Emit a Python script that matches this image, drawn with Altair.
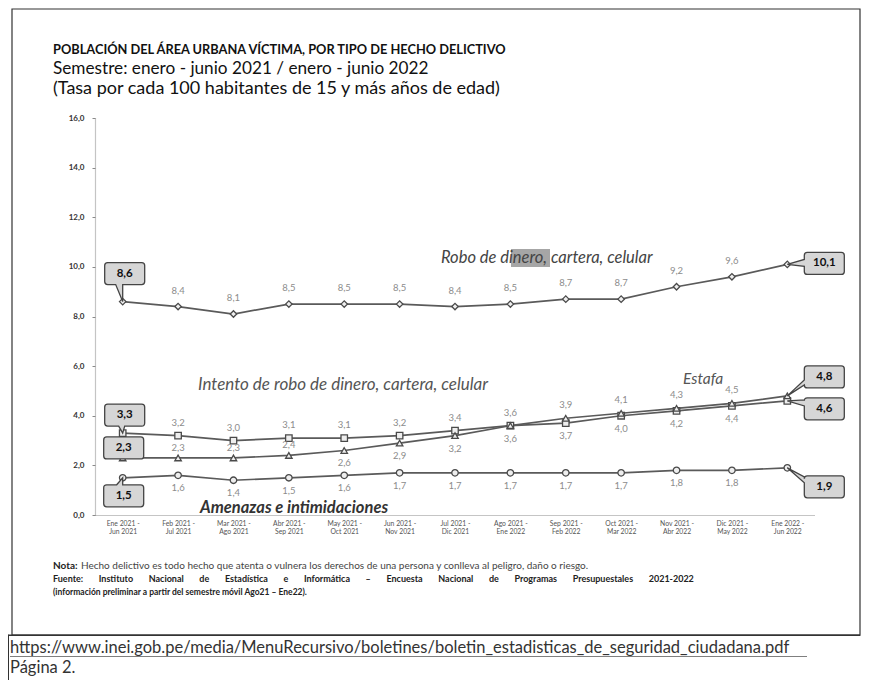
import altair as alt
import pandas as pd

# ---------------- data ----------------
periods = [
    "Ene 2021 - Jun 2021", "Feb 2021 - Jul 2021", "Mar 2021 - Ago 2021",
    "Abr 2021 - Sep 2021", "May 2021 - Oct 2021", "Jun 2021 - Nov 2021",
    "Jul 2021 - Dic 2021", "Ago 2021 - Ene 2022", "Sep 2021 - Feb 2022",
    "Oct 2021 - Mar 2022", "Nov 2021 - Abr 2022", "Dic 2021 - May 2022",
    "Ene 2022 - Jun 2022",
]
robo = [8.6, 8.4, 8.1, 8.5, 8.5, 8.5, 8.4, 8.5, 8.7, 8.7, 9.2, 9.6, 10.1]
intento = [3.3, 3.2, 3.0, 3.1, 3.1, 3.2, 3.4, 3.6, 3.7, 4.0, 4.2, 4.4, 4.6]
estafa = [2.3, 2.3, 2.3, 2.4, 2.6, 2.9, 3.2, 3.6, 3.9, 4.1, 4.3, 4.5, 4.8]
amenazas = [1.5, 1.6, 1.4, 1.5, 1.6, 1.7, 1.7, 1.7, 1.7, 1.7, 1.8, 1.8, 1.9]
series_names = [
    "Robo de dinero, cartera, celular",
    "Intento de robo de dinero, cartera, celular",
    "Estafa",
    "Amenazas e intimidaciones",
]
y_ticks = [0, 2, 4, 6, 8, 10, 12, 14, 16]

title = "POBLACIÓN DEL ÁREA URBANA VÍCTIMA, POR TIPO DE HECHO DELICTIVO"
subtitle1 = "Semestre: enero - junio 2021 / enero - junio 2022"
subtitle2 = "(Tasa por cada 100 habitantes de 15 y más años de edad)"
nota_lbl = "Nota:"
nota_txt = "Hecho delictivo es todo hecho que atenta o vulnera los derechos de una persona y conlleva al peligro, daño o riesgo."
fuente_txt = "Fuente: Instituto Nacional de Estadística e Informática – Encuesta Nacional de Programas Presupuestales 2021-2022"
info_txt = "(información preliminar a partir del semestre móvil Ago21 – Ene22)."
url_txt = "https://www.inei.gob.pe/media/MenuRecursivo/boletines/boletin_estadisticas_de_seguridad_ciudadana.pdf"
pagina_txt = "Página 2."

# ---------------- style ----------------
FONT = "Lato"
W, H = 720, 397
LINE_COLOR = "#5a5a5a"
shapes = ["diamond", "square", "triangle-up", "circle"]

# label side per series and index
def label_side(s, i):
    if s == 0:
        return "up"
    if s == 3:
        return "down"
    if s == 1:
        return "up2" if i <= 7 else "down"
    if i <= 3:
        return "up3"
    if i <= 7:
        return "down"
    return "up2"

side_dy = {"up": -16, "up2": -13, "up3": -10, "down": 13}

def fmt(v):
    return f"{v:.1f}".replace(".", ",")

values = [robo, intento, estafa, amenazas]
rows = []
for s, vals in enumerate(values):
    for i, v in enumerate(vals):
        rows.append({"period": periods[i], "serie": series_names[s], "value": v,
                     "label": fmt(v), "idx": i, "s": s, "side": label_side(s, i)})
df = pd.DataFrame(rows)

x_enc = alt.X("period:N", sort=periods,
              scale=alt.Scale(type="point", padding=0.5),
              axis=alt.Axis(title=None, labelAngle=0, labelFontSize=6.8, labelFont=FONT,
                            labelColor="#555", ticks=False, domainColor="#8a8a8a",
                            domainDash=[1, 1], domainWidth=1.2, labelPadding=5,
                            labelLineHeight=8.5,
                            labelExpr="[slice(datum.label,0,10), slice(datum.label,11)]"))
y_enc = alt.Y("value:Q", scale=alt.Scale(domain=[0, 16], nice=False, zero=True),
              axis=alt.Axis(title=None, values=y_ticks, grid=False, labelFontSize=8,
                            labelFont=FONT, labelFontWeight="bold", labelColor="#333",
                            tickSize=3, tickColor="#8a8a8a", domainColor="#8a8a8a",
                            domainDash=[1, 1], domainWidth=1.2, labelPadding=8,
                            labelExpr="replace(format(datum.value,'.1f'),'.',',')"))

base = alt.Chart(df)
layers = []

one = pd.DataFrame({"a": [0]})

def px_rect(x, x2, y, y2, **kw):
    return alt.Chart(one).mark_rect(**kw).encode(
        x=alt.value(x), x2=alt.value(x2), y=alt.value(y), y2=alt.value(y2))

def px_text(txt, x, y, **kw):
    return alt.Chart(pd.DataFrame({"t": [txt]})).mark_text(
        align=kw.pop("align", "left"), baseline=kw.pop("baseline", "middle"),
        font=kw.pop("font", FONT), **kw).encode(x=alt.value(x), y=alt.value(y), text="t:N")

# frame and footer separators (page coords minus plot origin 95,118)
layers.append(px_rect(-83, 765, -109, 517, fillOpacity=0, stroke="#333", strokeWidth=1.2))
layers.append(px_rect(-87, 765, 517, 517.5, fill="#333", stroke="#333", strokeWidth=1))
layers.append(px_rect(-87, -86.5, 517, 570, fill="#333", stroke="#333", strokeWidth=1))
# highlight behind "dinero"
layers.append(px_rect(416, 455, 131, 149, fill="#a6a6a6"))

# lines
layers.append(base.mark_line(color=LINE_COLOR, strokeWidth=1.7).encode(
    x=x_enc, y=y_enc, detail="serie:N"))
# markers
layers.append(base.mark_point(filled=True, fill="#eeeeee", stroke="#4a4a4a",
                              strokeWidth=1.3, size=42, opacity=1).encode(
    x=x_enc, y=y_enc,
    shape=alt.Shape("serie:N", scale=alt.Scale(domain=series_names, range=shapes), legend=None)))

# value labels (not first/last)
inner = base.transform_filter("datum.idx > 0 && datum.idx < 12")
for side, dy in side_dy.items():
    layers.append(inner.transform_filter(f"datum.side == '{side}'").mark_text(
        font=FONT, fontSize=9.5, color="#8c8c8c", dy=dy, baseline="middle").encode(
        x=x_enc, y=y_enc, text="label:N"))

# callouts
def callout_path(cx, cy, w, h, edge=None, b0=0, b1=0, r=3):
    x0, x1 = cx - w / 2, cx + w / 2
    y0, y1 = cy - h / 2, cy + h / 2
    p = [f"M{x0 + r},{y0}"]
    if edge == "top":
        p += [f"L{b0},{y0}", "L0,0", f"L{b1},{y0}"]
    p += [f"L{x1 - r},{y0}", f"Q{x1},{y0} {x1},{y0 + r}"]
    p += [f"L{x1},{y1 - r}", f"Q{x1},{y1} {x1 - r},{y1}"]
    if edge == "bottom":
        p += [f"L{b1},{y1}", "L0,0", f"L{b0},{y1}"]
    p += [f"L{x0 + r},{y1}", f"Q{x0},{y1} {x0},{y1 - r}"]
    if edge == "left":
        p += [f"L{x0},{b1}", "L0,0", f"L{x0},{b0}"]
    p += [f"L{x0},{y0 + r}", f"Q{x0},{y0} {x0 + r},{y0}", "Z"]
    return " ".join(p)

callouts = [
    # (series, idx, cx, cy, edge, b0, b1)
    (0, 0, 2, -28, "bottom", -7, 0),
    (0, 12, 37, -1, "left", -5, 2),
    (1, 0, 2, -18, "bottom", -4, 2),
    (1, 12, 37, 8, "left", -1, 5),
    (2, 0, 1, -10, None, 0, 0),
    (2, 12, 37, -19, "left", -16, -11),
    (3, 0, 1, 18, "top", -6, 0),
    (3, 12, 37, 19, "left", 9, 15),
]
for s, i, cx, cy, edge, b0, b1 in callouts:
    sub = base.transform_filter(f"datum.s == {s} && datum.idx == {i}")
    path = callout_path(cx, cy, 40, 22, edge, b0, b1)
    layers.append(sub.mark_point(shape=path, size=4, filled=True, fill="#d6d6d6",
                                 stroke="#444", strokeWidth=1.3, opacity=1).encode(x=x_enc, y=y_enc))
    layers.append(sub.mark_text(font=FONT, fontSize=11.5, fontWeight="bold", color="#111",
                                dx=cx, dy=cy, baseline="middle").encode(
        x=x_enc, y=y_enc, text="label:N"))

# titles
layers.append(px_text(title, -42, -68, fontSize=12.8, fontWeight="bold", color="#111"))
layers.append(px_text(subtitle1, -42, -49, fontSize=17.2, color="#111"))
layers.append(px_text(subtitle2, -42, -29, fontSize=18, color="#111"))

# series annotations
layers.append(px_text(series_names[0], 346, 140, fontSize=16.5, fontStyle="italic", color="#444"))
layers.append(px_text(series_names[1], 103, 267, fontSize=17, fontStyle="italic", color="#555"))
layers.append(px_text(series_names[2], 588, 261, fontSize=15.5, fontStyle="italic", color="#555"))
layers.append(px_text(series_names[3], 105, 390, fontSize=16.5, fontStyle="italic",
                      fontWeight="bold", color="#333"))

# notes (justified "Fuente" line emulated with wider word gaps)
gap = " \u2003\u2002\u00a0"
fuente_just = gap.join(fuente_txt.split(" "))
layers.append(px_text(nota_lbl, -42, 448, fontSize=10, fontWeight="bold", color="#222"))
layers.append(px_text(nota_txt, -14, 448, fontSize=10, color="#444"))
layers.append(px_text(fuente_just, -42, 461, fontSize=9, fontWeight="bold", color="#222"))
layers.append(px_text(info_txt, -42, 474, fontSize=8.5, fontWeight="bold", color="#222"))
layers.append(px_text(url_txt, -85, 530, fontSize=16.5, color="#333"))
layers.append(px_rect(-85, 712, 538, 538.8, fill="#555"))
layers.append(px_text(pagina_txt, -85, 550, fontSize=16.5, color="#333"))

chart = alt.layer(*layers).properties(
    width=W, height=H,
    autosize=alt.AutoSizeParams(type="none"),
    padding={"left": 87, "top": 110, "right": 46, "bottom": 165},
    background="white",
).configure_view(strokeWidth=0)

chart.save("out.html", embed_options={"renderer": "svg", "actions": False})
